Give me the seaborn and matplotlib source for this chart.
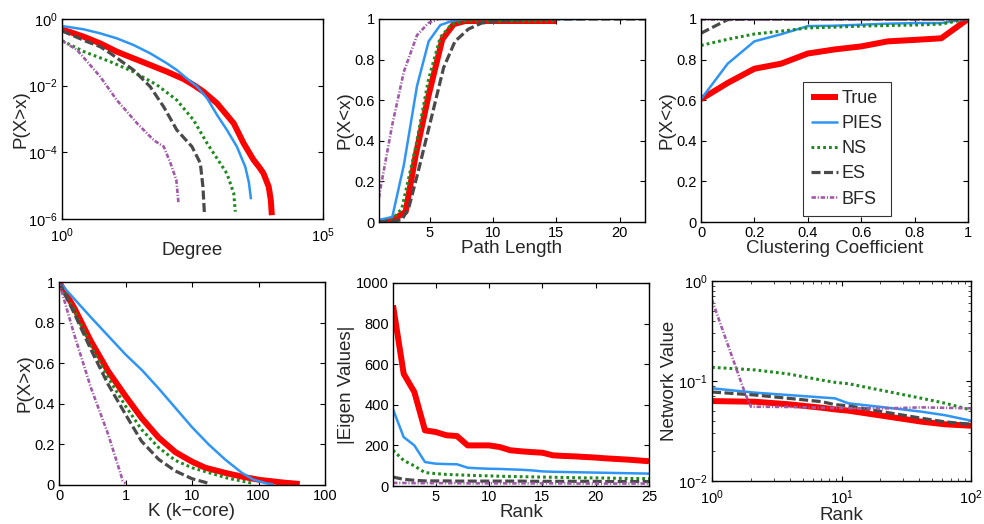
import numpy as np
import pandas as pd
import matplotlib
matplotlib.use("Agg")
import matplotlib.pyplot as plt
import seaborn as sns
from matplotlib.ticker import FixedLocator, NullLocator, NullFormatter, LogLocator, FuncFormatter
from matplotlib.lines import Line2D

sns.set_style("ticks")
plt.rcParams["font.family"] = ["Liberation Sans", "DejaVu Sans"]
plt.rcParams["mathtext.fontset"] = "custom"
plt.rcParams["mathtext.rm"] = "Liberation Sans"
plt.rcParams["mathtext.it"] = "Liberation Sans:italic"
plt.rcParams["mathtext.default"] = "regular"
plt.rcParams["lines.scale_dashes"] = False
plt.rcParams["axes.unicode_minus"] = False

methods = ["True", "PIES", "NS", "ES", "BFS"]

# ---------------- Panel 1: degree CCDF (log-log) ----------------
deg_true_x = [1, 2.6, 5.37, 11.2, 23.4, 49, 102, 214, 331, 513, 933, 1950, 3020, 4680, 6030, 7240, 9120, 10000, 10470]
deg_true_y = [0.49, 0.295, 0.186, 0.105, 0.066, 0.0417, 0.0263, 0.0158, 0.0105, 0.0066, 0.00295, 7.4e-4,
              1.86e-4, 5.9e-5, 3.55e-5, 2.34e-5, 9.3e-6, 3.7e-6, 1.3e-6]
deg_pies_x = [1, 2.6, 5.37, 11.2, 23.4, 49, 102, 158, 245, 389, 603, 933, 1445, 2240, 3240, 3800, 4170]
deg_pies_y = [0.617, 0.49, 0.372, 0.263, 0.166, 0.0933, 0.0468, 0.0295, 0.0166, 0.0093, 0.00417, 0.00132,
              4.68e-4, 1.48e-4, 3.7e-5, 1.26e-5, 3.9e-6]
deg_ns_x = [1, 2.63, 8.5, 23.4, 66, 158, 331, 603, 933, 1445, 1950, 2090]
deg_ns_y = [0.224, 0.105, 0.052, 0.026, 0.0105, 0.0037, 9.3e-4, 1.86e-4, 6.6e-5, 2.3e-5, 5.9e-6, 1.66e-6]
deg_es_x = [1, 3.0, 5.37, 8.5, 23.4, 49, 89, 158, 309, 447, 501, 537]
deg_es_y = [0.44, 0.21, 0.148, 0.093, 0.0295, 0.0093, 0.0023, 4.7e-4, 1.48e-4, 4.7e-5, 9.3e-6, 1.3e-6]
deg_bfs_x = [1, 1.95, 5.4, 11.2, 27.5, 57.5, 89, 120, 155, 170]
deg_bfs_y = [0.224, 0.117, 0.0186, 0.0037, 7.4e-4, 2.3e-4, 1.48e-4, 4.7e-5, 1.48e-5, 3.1e-6]

# ---------------- Panel 2: path length CDF ----------------
pl_true_x = [1, 2.05, 3.1, 3.9, 4.9, 6.0, 6.9, 7.8, 9, 15]
pl_true_y = [0.0, 0.01, 0.05, 0.33, 0.62, 0.90, 0.975, 0.99, 0.99, 0.99]
pl_pies_x = [1, 2.05, 2.96, 4.0, 4.92, 5.84, 6.75, 7.8, 10, 17]
pl_pies_y = [0.01, 0.025, 0.28, 0.67, 0.89, 0.97, 0.99, 1.0, 1.0, 1.0]
pl_ns_x = [1, 2.0, 2.8, 3.9, 4.9, 5.84, 6.75, 7.8, 9, 15]
pl_ns_y = [0.0, 0.01, 0.066, 0.37, 0.70, 0.91, 0.975, 0.99, 0.99, 0.99]
pl_es_x = [1, 2.8, 3.35, 4.1, 5.2, 6.1, 7.0, 8.05, 9.1, 10.5, 13, 22]
pl_es_y = [0.0, 0.01, 0.07, 0.25, 0.53, 0.76, 0.89, 0.95, 0.98, 0.99, 1.0, 1.0]
pl_bfs_x = [1, 1.13, 2.05, 2.96, 4.0, 4.9, 5.7, 8]
pl_bfs_y = [0.12, 0.17, 0.48, 0.74, 0.92, 0.98, 1.0, 1.0]

# ---------------- Panel 3: clustering coefficient CDF ----------------
cc_x = [0.0, 0.1, 0.2, 0.3, 0.4, 0.5, 0.6, 0.7, 0.8, 0.9, 1.0]
cc_true = [0.605, 0.685, 0.755, 0.78, 0.83, 0.85, 0.865, 0.89, 0.897, 0.905, 1.0]
cc_pies = [0.605, 0.78, 0.89, 0.925, 0.965, 0.967, 0.972, 0.977, 0.98, 0.98, 1.0]
cc_ns = [0.87, 0.90, 0.926, 0.94, 0.956, 0.96, 0.965, 0.968, 0.97, 0.975, 1.0]
cc_es = [0.93, 0.997, 1.0, 1.0, 1.0, 1.0, 1.0, 1.0, 1.0, 1.0, 1.0]
cc_bfs = [1.0, 1.0, 1.0, 1.0, 1.0, 1.0, 1.0, 1.0, 1.0, 1.0, 1.0]

# ---------------- Panel 4: k-core CCDF (tick positions 0..4) ----------------
kc_ticklabels = ["0", "1", "10", "100", "100"]
kc_true_x = [0, 0.23, 0.48, 0.74, 1.0, 1.24, 1.5, 1.75, 2.0, 2.2, 2.52, 2.77, 3.02, 3.37, 3.62]
kc_true_y = [1.0, 0.872, 0.708, 0.56, 0.438, 0.331, 0.233, 0.162, 0.115, 0.085, 0.058, 0.04, 0.025, 0.012, 0.005]
kc_pies_x = [0, 0.48, 1.0, 1.25, 1.5, 1.75, 2.0, 2.25, 2.5, 2.75, 2.92, 3.12, 3.22]
kc_pies_y = [1.0, 0.826, 0.643, 0.565, 0.475, 0.38, 0.285, 0.2, 0.125, 0.06, 0.027, 0.008, 0.003]
kc_ns_x = [0, 0.23, 0.48, 0.74, 1.0, 1.24, 1.5, 1.75, 2.0, 2.2, 2.52, 2.77, 2.92]
kc_ns_y = [1.0, 0.86, 0.684, 0.528, 0.389, 0.274, 0.184, 0.121, 0.085, 0.066, 0.035, 0.018, 0.008]
kc_es_x = [0, 0.23, 0.48, 0.74, 1.0, 1.24, 1.5, 1.75, 2.0, 2.2, 2.27]
kc_es_y = [1.0, 0.845, 0.667, 0.495, 0.348, 0.216, 0.126, 0.069, 0.031, 0.013, 0.004]
kc_bfs_x = [0, 0.23, 0.48, 0.74, 0.96, 1.0]
kc_bfs_y = [1.0, 0.74, 0.479, 0.249, 0.02, 0.008]

# ---------------- Panel 5: eigenvalues by rank ----------------
ev_rank = list(range(1, 26))
ev_true = [890, 553, 463, 274, 266, 250, 246, 200, 200, 200, 192, 176, 171, 167, 164,
           151, 148, 146, 143, 140, 136, 133, 130, 126, 122]
ev_pies = [378, 241, 200, 118, 110, 108, 107, 90, 87, 85, 84, 82, 80, 77, 72,
           70, 69, 68, 67, 66, 65, 64, 63, 62, 61]
ev_ns = [176, 126, 99, 66, 61, 57, 55, 53, 51, 50, 48, 47, 46, 45, 44,
         43, 42, 41, 40, 40, 39, 38, 37, 37, 36]
ev_es = [44, 33, 28, 25, 25, 25, 24, 24, 24, 24, 24, 24, 24, 23, 23,
         23, 23, 23, 23, 23, 22, 22, 22, 22, 22]
ev_bfs = [15, 15, 14, 14, 14, 14, 14, 13, 13, 13, 13, 13, 13, 13, 13,
          13, 13, 12, 12, 12, 12, 12, 12, 12, 12]

# ---------------- Panel 6: network value (log-log) ----------------
nv_x = [1, 2.16, 3.9, 7.06, 8.9, 11.3, 23, 41.6, 63, 100]
nv_true = [0.063, 0.062, 0.0585, 0.054, 0.052, 0.0505, 0.044, 0.0392, 0.0369, 0.0357]
nv_pies = [0.0845, 0.0764, 0.0724, 0.0685, 0.0671, 0.0598, 0.054, 0.0493, 0.0455, 0.0401]
nv_ns = [0.137, 0.129, 0.1175, 0.102, 0.097, 0.094, 0.0782, 0.0671, 0.060, 0.0513]
nv_es = [0.0776, 0.0724, 0.0671, 0.0621, 0.058, 0.0565, 0.0482, 0.0424, 0.039, 0.0369]
nv_bfs_x = [1, 1.8, 2.0, 3.9, 7.06, 12.7, 23, 41.6, 100]
nv_bfs = [0.645, 0.0753, 0.0553, 0.055, 0.054, 0.0533, 0.0533, 0.0545, 0.0533]

styles = {
    "True": dict(color="#ff0000", linewidth=4.3, linestyle="-"),
    "PIES": dict(color="#2e95f4", linewidth=1.8, linestyle="-"),
    "NS": dict(color="#1f8a1f", linewidth=2.2, linestyle=(0, (2.0, 2.2))),
    "ES": dict(color="#4a4a4a", linewidth=2.3, linestyle=(0, (6.5, 2.5))),
    "BFS": dict(color="#a15aa8", linewidth=1.9, linestyle=(0, (3.2, 1.3, 0.8, 1.3))),
}

W, H = 984, 524
fig = plt.figure(figsize=(W / 100, H / 100), dpi=100)


def add_ax(left, top, right, bottom):
    return fig.add_axes([left / W, 1 - bottom / H, (right - left) / W, (bottom - top) / H])


ax1 = add_ax(62, 19, 323, 219)
ax2 = add_ax(379, 19, 645, 222)
ax3 = add_ax(701, 19, 968, 222)
ax4 = add_ax(59, 282, 325, 485)
ax5 = add_ax(393, 283, 649, 486)
ax6 = add_ax(712, 281, 971, 481)


def draw(ax, series):
    for name, xs, ys in series:
        df = pd.DataFrame({"x": xs, "y": ys})
        sns.lineplot(data=df, x="x", y="y", ax=ax, sort=False, estimator=None,
                     legend=False, solid_capstyle="butt", solid_joinstyle="round", **styles[name])


draw(ax1, [("True", deg_true_x, deg_true_y), ("PIES", deg_pies_x, deg_pies_y),
           ("NS", deg_ns_x, deg_ns_y), ("ES", deg_es_x, deg_es_y), ("BFS", deg_bfs_x, deg_bfs_y)])
draw(ax2, [("True", pl_true_x, pl_true_y), ("PIES", pl_pies_x, pl_pies_y),
           ("NS", pl_ns_x, pl_ns_y), ("ES", pl_es_x, pl_es_y), ("BFS", pl_bfs_x, pl_bfs_y)])
draw(ax3, [("True", cc_x, cc_true), ("PIES", cc_x, cc_pies), ("NS", cc_x, cc_ns),
           ("ES", cc_x, cc_es), ("BFS", cc_x, cc_bfs)])
draw(ax4, [("True", kc_true_x, kc_true_y), ("PIES", kc_pies_x, kc_pies_y),
           ("NS", kc_ns_x, kc_ns_y), ("ES", kc_es_x, kc_es_y), ("BFS", kc_bfs_x, kc_bfs_y)])
draw(ax5, [("True", ev_rank, ev_true), ("PIES", ev_rank, ev_pies), ("NS", ev_rank, ev_ns),
           ("ES", ev_rank, ev_es), ("BFS", ev_rank, ev_bfs)])
draw(ax6, [("True", nv_x, nv_true), ("PIES", nv_x, nv_pies), ("NS", nv_x, nv_ns),
           ("ES", nv_x, nv_es), ("BFS", nv_bfs_x, nv_bfs)])

gfmt = FuncFormatter(lambda v, p: f"{v:g}")

# panel 1
ax1.set_xscale("log")
ax1.set_yscale("log")
ax1.set_xlim(1, 1e5)
ax1.set_ylim(1e-6, 1)
ax1.xaxis.set_major_locator(FixedLocator([1, 1e5]))
ax1.xaxis.set_minor_locator(NullLocator())
ax1.yaxis.set_major_locator(FixedLocator([1e-6, 1e-4, 1e-2, 1]))
ax1.yaxis.set_minor_locator(NullLocator())
ax1.set_xlabel("Degree")
ax1.set_ylabel("P(X>x)")

# panel 2
ax2.set_xlim(1, 22)
ax2.set_ylim(0, 1)
ax2.set_xticks([5, 10, 15, 20])
ax2.set_yticks([0, 0.2, 0.4, 0.6, 0.8, 1])
ax2.yaxis.set_major_formatter(gfmt)
ax2.set_xlabel("Path Length")
ax2.set_ylabel("P(X<x)")

# panel 3
ax3.set_xlim(0, 1)
ax3.set_ylim(0, 1)
ax3.set_xticks([0, 0.2, 0.4, 0.6, 0.8, 1])
ax3.set_yticks([0, 0.2, 0.4, 0.6, 0.8, 1])
ax3.xaxis.set_major_formatter(gfmt)
ax3.yaxis.set_major_formatter(gfmt)
ax3.set_xlabel("Clustering Coefficient")
ax3.set_ylabel("P(X<x)")

# panel 4
ax4.set_xlim(0, 4)
ax4.set_ylim(0, 1)
ax4.set_xticks(range(len(kc_ticklabels)))
ax4.set_xticklabels(kc_ticklabels)
ax4.set_yticks([0, 0.2, 0.4, 0.6, 0.8, 1])
ax4.yaxis.set_major_formatter(gfmt)
ax4.set_xlabel("K (k\u2212core)")
ax4.set_ylabel("P(X>x)")

# panel 5
ax5.set_xlim(1, 25)
ax5.set_ylim(0, 1000)
ax5.set_xticks([5, 10, 15, 20, 25])
ax5.set_yticks([0, 200, 400, 600, 800, 1000])
ax5.set_xlabel("Rank")
ax5.set_ylabel("|Eigen Values|")

# panel 6
ax6.set_xscale("log")
ax6.set_yscale("log")
ax6.set_xlim(1, 100)
ax6.set_ylim(0.01, 1)
ax6.xaxis.set_major_locator(LogLocator(base=10, numticks=10))
ax6.yaxis.set_major_locator(LogLocator(base=10, numticks=10))
ax6.xaxis.set_minor_locator(LogLocator(base=10, subs=np.arange(2, 10), numticks=20))
ax6.yaxis.set_minor_locator(LogLocator(base=10, subs=np.arange(2, 10), numticks=20))
ax6.xaxis.set_minor_formatter(NullFormatter())
ax6.yaxis.set_minor_formatter(NullFormatter())
ax6.set_xlabel("Rank")
ax6.set_ylabel("Network Value")

for ax in [ax1, ax2, ax3, ax4, ax5, ax6]:
    for s in ax.spines.values():
        s.set_visible(True)
        s.set_linewidth(1.0)
        s.set_color("black")
    ax.tick_params(which="major", direction="in", length=3.5, width=0.8, top=True, right=True,
                   labelsize=10.5, pad=3, colors="black")
    ax.tick_params(which="minor", direction="in", length=2, width=0.6, top=True, right=True)
    ax.xaxis.label.set_size(13.5)
    ax.yaxis.label.set_size(13.5)
    ax.xaxis.labelpad = 0
    ax.yaxis.labelpad = 1
    ax.set_facecolor("white")
ax1.yaxis.labelpad = -1
ax6.yaxis.labelpad = 0
for ax in [ax1, ax6]:
    ax.tick_params(axis="x", which="major", pad=5.5)
ax1.xaxis.labelpad = -2
ax6.xaxis.labelpad = 0

handles = [Line2D([0], [0], solid_capstyle="butt", **styles[m]) for m in methods]
leg = ax3.legend(handles, methods, loc="upper left", bbox_to_anchor=(0.382, 0.69),
                 fontsize=13, handlelength=1.5, handletextpad=0.2, labelspacing=0.45,
                 borderpad=0.45, borderaxespad=0, frameon=True, fancybox=False)
leg.get_frame().set_edgecolor("black")
leg.get_frame().set_linewidth(0.8)

fig.savefig("out.png", dpi=100, facecolor="white")
